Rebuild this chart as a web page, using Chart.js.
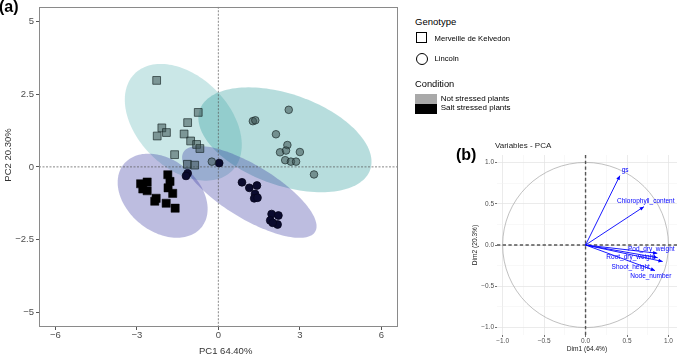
<!DOCTYPE html>
<html><head><meta charset="utf-8">
<script src="https://cdn.jsdelivr.net/npm/chart.js@4"></script>
<style>
html,body{margin:0;padding:0;background:#fff;width:677px;height:357px;overflow:hidden;font-family:"Liberation Sans",Arial,sans-serif;color:#000;}
.abs{position:absolute;white-space:nowrap;line-height:1;}
#ca{position:absolute;left:0;top:0;}
#cb{position:absolute;left:467px;top:140px;}
</style></head><body>
<canvas id="ca" width="404" height="357"></canvas>
<canvas id="cb" width="210" height="217"></canvas>

<div class="abs" style="left:-1px;top:-1px;font-size:16px;font-weight:bold">(a)</div>
<div class="abs" style="left:199px;top:346px;font-size:9.5px;color:#333">PC1 64.40%</div>
<div class="abs" style="left:7.5px;top:155px;font-size:9.5px;color:#333;transform:translate(-50%,-50%) rotate(-90deg);transform-origin:50% 50%;">PC2 20.30%</div>

<div class="abs" style="left:415px;top:17px;font-size:9.5px">Genotype</div>
<div class="abs" style="left:416px;top:32px;width:9px;height:9px;border:1px solid #000"></div>
<div class="abs" style="left:434.5px;top:35px;font-size:7.7px">Merveille de Kelvedon</div>
<div class="abs" style="left:416px;top:53px;width:10px;height:10px;border:1px solid #000;border-radius:50%"></div>
<div class="abs" style="left:434.5px;top:55px;font-size:7.7px">Lincoln</div>
<div class="abs" style="left:415px;top:79.5px;font-size:9.3px">Condition</div>
<div class="abs" style="left:415px;top:94px;width:22px;height:10px;background:#a9a9a9"></div>
<div class="abs" style="left:415px;top:104px;width:22px;height:9.5px;background:#000"></div>
<div class="abs" style="left:440.7px;top:95px;font-size:8px">Not stressed plants</div>
<div class="abs" style="left:440.7px;top:103.5px;font-size:8px">Salt stressed plants</div>

<div class="abs" style="left:456px;top:147px;font-size:16px;font-weight:bold">(b)</div>
<div class="abs" style="left:495px;top:142px;font-size:8px;color:#222">Variables - PCA</div>

<script>
// ---------- Panel (a) data ----------
const squaresNotStressed = [[-2.27,2.97],[-0.74,1.87],[-1.13,1.52],[-2.08,1.34],[-1.91,1.18],[-2.25,1.06],[-1.26,1.13],[-1.02,0.89],[-0.80,0.77],[-0.68,0.63],[-1.61,0.42],[-1.14,0.09],[-0.87,0.06]];
const squaresSaltStressed = [[-2.86,-0.58],[-2.62,-0.52],[-2.78,-0.76],[-2.62,-0.82],[-1.86,-0.27],[-1.78,-0.50],[-1.85,-0.72],[-1.68,-0.91],[-2.29,-1.08],[-2.34,-1.18],[-1.92,-1.25],[-1.59,-1.42]];
const circlesNotStressed = [[2.59,1.96],[1.27,1.57],[1.36,1.60],[2.12,1.12],[2.54,0.75],[2.27,0.50],[2.49,0.56],[3.00,0.51],[2.46,0.23],[2.67,0.18],[2.86,0.18],[3.52,-0.26],[-0.24,0.18]];
const circlesSaltStressed = [[0.03,0.13],[-1.13,-0.22],[-1.19,-0.31],[0.87,-0.53],[1.14,-0.72],[1.42,-0.64],[1.35,-0.93],[1.32,-1.08],[1.44,-1.06],[1.96,-1.62],[2.21,-1.67],[1.91,-1.84],[2.18,-1.98],[2.00,-1.92]];
const ellipseCenters = [[-1.29,1.53],[2.45,0.93],[-2.05,-0.99],[1.14,-0.86]];
const ellipseMajor   = [[1.79,-1.67],[3.136,-1.031],[1.426,-1.089],[2.42,-1.372]];
const ellipseMinor   = [[1.195,1.109],[0.563,1.477],[0.840,0.949],[0.513,0.780]];
const xTicksA = [-6,-3,0,3,6];
const yTicksA = [-5,-2.5,0,2.5,5];
const xRangeA = [-6.6,6.6];
const yRangeA = [-5.5,5.5];

// ---------- Panel (b) data ----------
const varNames = ['gs','Chlorophyll_content','Pod_dry_weight','Root_dry_weight','Shoot_height','Node_number'];
const varX = [0.414,0.704,0.865,0.870,0.930,0.837];
const varY = [0.840,0.464,-0.100,-0.154,-0.200,-0.310];
const labelX = [0.477,0.726,0.793,0.545,0.545,0.787];
const labelY = [0.909,0.531,-0.045,-0.149,-0.263,-0.376];
const ticksB = [-1,-0.75,-0.5,-0.25,0,0.25,0.5,0.75,1];
const xRangeB = [-1.068,1.103];
const yRangeB = [-1.09,1.09];
const circleRadiusB = [1];

const FONT = "'Liberation Sans', Arial, sans-serif";
Chart.defaults.font.family = FONT;
const fmtMinus = v => (v < 0 ? '\u2212' + Math.abs(v) : String(v));
const toPts = arr => arr.map(p => ({x:p[0], y:p[1]}));

const ellipseFills = ['rgba(80,175,175,0.30)','rgba(30,150,150,0.32)','rgba(50,50,160,0.32)','rgba(50,50,160,0.32)'];

const panelAPlugin = {
  id:'panelA',
  beforeDatasetsDraw(chart){
    const {ctx, chartArea:ca, scales:{x, y}} = chart;
    ctx.save();
    ctx.beginPath(); ctx.rect(ca.left, ca.top, ca.right-ca.left, ca.bottom-ca.top); ctx.clip();
    ellipseCenters.forEach((c,i)=>{
      const A = ellipseMajor[i], B = ellipseMinor[i];
      ctx.beginPath();
      for(let k=0;k<=144;k++){
        const t = k/144*2*Math.PI;
        const dx = c[0]+A[0]*Math.cos(t)+B[0]*Math.sin(t);
        const dy = c[1]+A[1]*Math.cos(t)+B[1]*Math.sin(t);
        const px = x.getPixelForValue(dx), py = y.getPixelForValue(dy);
        if(k===0) ctx.moveTo(px,py); else ctx.lineTo(px,py);
      }
      ctx.closePath();
      ctx.fillStyle = ellipseFills[i];
      ctx.fill();
    });
    ctx.strokeStyle = '#555'; ctx.lineWidth = 0.7; ctx.setLineDash([2,1.5]);
    const x0 = x.getPixelForValue(0), y0 = y.getPixelForValue(0);
    ctx.beginPath(); ctx.moveTo(x0, ca.top); ctx.lineTo(x0, ca.bottom); ctx.stroke();
    ctx.beginPath(); ctx.moveTo(ca.left, y0); ctx.lineTo(ca.right, y0); ctx.stroke();
    ctx.restore();
  },
  afterDraw(chart){
    const {ctx, chartArea:ca} = chart;
    ctx.save();
    ctx.strokeStyle = '#8a8a8a'; ctx.lineWidth = 1;
    ctx.strokeRect(Math.round(ca.left)+0.5, Math.round(ca.top)+0.5, Math.round(ca.right-ca.left)-1, Math.round(ca.bottom-ca.top)-1);
    ctx.restore();
  }
};

const grayFill = 'rgba(60,82,82,0.55)', grayBorder = 'rgba(25,40,40,0.85)';
new Chart(document.getElementById('ca'), {
  type:'scatter',
  data:{datasets:[
    {data:toPts(circlesNotStressed), pointStyle:'circle', pointRadius:3.8, backgroundColor:grayFill, borderColor:grayBorder, borderWidth:0.8},
    {data:toPts(squaresNotStressed), pointStyle:'rect', pointRadius:5.5, backgroundColor:grayFill, borderColor:grayBorder, borderWidth:0.8},
    {data:toPts(circlesSaltStressed), pointStyle:'circle', pointRadius:3.9, backgroundColor:'#0a0a2e', borderColor:'#05051a', borderWidth:0.8},
    {data:toPts(squaresSaltStressed), pointStyle:'rect', pointRadius:5.8, backgroundColor:'#000', borderColor:'#000', borderWidth:0.5}
  ]},
  options:{
    responsive:false, animation:false, devicePixelRatio:1,
    layout:{padding:{top:5,right:5,left:0,bottom:0}},
    plugins:{legend:{display:false}, tooltip:{enabled:false}},
    elements:{point:{hoverRadius:0}},
    scales:{
      x:{type:'linear', min:xRangeA[0], max:xRangeA[1],
        afterBuildTicks:s=>{s.ticks = xTicksA.map(v=>({value:v}));},
        afterFit:s=>{s.height = 30;},
        ticks:{callback:v=>fmtMinus(v), font:{size:9.5, lineHeight:1}, color:'#4d4d4d', padding:1, maxRotation:0, autoSkip:false},
        grid:{drawOnChartArea:false, tickLength:3, tickColor:'#555'},
        border:{display:false}},
      y:{type:'linear', min:yRangeA[0], max:yRangeA[1],
        afterBuildTicks:s=>{s.ticks = yTicksA.map(v=>({value:v}));},
        afterFit:s=>{s.width = 39;},
        ticks:{callback:v=>fmtMinus(v), font:{size:9.5, lineHeight:1}, color:'#4d4d4d', padding:2, autoSkip:false},
        grid:{drawOnChartArea:false, tickLength:3, tickColor:'#555'},
        border:{display:false}}
    }
  },
  plugins:[panelAPlugin]
});

// ---------- Panel (b) ----------
const panelBPlugin = {
  id:'panelB',
  beforeDatasetsDraw(chart){
    const {ctx, chartArea:ca, scales:{x, y}} = chart;
    ctx.save();
    ctx.beginPath(); ctx.rect(ca.left, ca.top, ca.right-ca.left, ca.bottom-ca.top); ctx.clip();
    const cx = x.getPixelForValue(0), cy = y.getPixelForValue(0);
    const rx = Math.abs(x.getPixelForValue(circleRadiusB[0]) - cx);
    const ry = Math.abs(y.getPixelForValue(circleRadiusB[0]) - cy);
    ctx.strokeStyle = '#a5a5a5'; ctx.lineWidth = 0.7;
    ctx.beginPath(); ctx.ellipse(cx, cy, rx, ry, 0, 0, 2*Math.PI); ctx.stroke();
    ctx.strokeStyle = '#555'; ctx.lineWidth = 1.4; ctx.setLineDash([3.3,2.4]);
    ctx.beginPath(); ctx.moveTo(cx, ca.top); ctx.lineTo(cx, ca.bottom); ctx.stroke();
    ctx.beginPath(); ctx.moveTo(ca.left, cy); ctx.lineTo(ca.right, cy); ctx.stroke();
    ctx.restore();
  },
  afterDatasetsDraw(chart){
    const {ctx, scales:{x, y}} = chart;
    ctx.save();
    const ox = x.getPixelForValue(0), oy = y.getPixelForValue(0);
    varX.forEach((vx,i)=>{
      const tx = x.getPixelForValue(vx), ty = y.getPixelForValue(varY[i]);
      const ang = Math.atan2(ty-oy, tx-ox);
      const L = 4.2, W = 1.9;
      ctx.fillStyle = '#0000ff';
      ctx.beginPath();
      ctx.moveTo(tx, ty);
      ctx.lineTo(tx - L*Math.cos(ang) + W*Math.sin(ang), ty - L*Math.sin(ang) - W*Math.cos(ang));
      ctx.lineTo(tx - L*Math.cos(ang) - W*Math.sin(ang), ty - L*Math.sin(ang) + W*Math.cos(ang));
      ctx.closePath(); ctx.fill();
    });
    ctx.font = "6.5px " + FONT;
    ctx.fillStyle = '#0000ff'; ctx.textAlign = 'center'; ctx.textBaseline = 'middle';
    varNames.forEach((n,i)=>{
      ctx.fillText(n, x.getPixelForValue(labelX[i]), y.getPixelForValue(labelY[i]));
    });
    ctx.restore();
  }
};

const isMajor = v => Math.abs(v*2 - Math.round(v*2)) < 1e-6;
const fmtB = v => isMajor(v) ? (v < 0 ? '\u2212' + Math.abs(v).toFixed(1) : v.toFixed(1)) : '';
const gridB = {
  drawOnChartArea:true, tickLength:2,
  color:c=> (c.tick && isMajor(c.tick.value)) ? '#e2e2e2' : '#f0f0f0',
  lineWidth:c=> (c.tick && isMajor(c.tick.value)) ? 0.7 : 0.5,
  tickColor:c=> (c.tick && isMajor(c.tick.value)) ? '#333' : 'rgba(0,0,0,0)'
};
new Chart(document.getElementById('cb'), {
  type:'scatter',
  data:{datasets: varNames.map((n,i)=>({
    label:n, data:[{x:0,y:0},{x:varX[i],y:varY[i]}], showLine:true,
    borderColor:'#0000ff', borderWidth:0.9, pointRadius:0, fill:false
  }))},
  options:{
    responsive:false, animation:false, devicePixelRatio:1,
    layout:{padding:{top:15,right:0,left:0,bottom:0}},
    plugins:{legend:{display:false}, tooltip:{enabled:false}},
    scales:{
      x:{type:'linear', min:xRangeB[0], max:xRangeB[1],
        afterBuildTicks:s=>{s.ticks = ticksB.map(v=>({value:v}));},
        afterFit:s=>{s.height = 22;},
        ticks:{callback:v=>fmtB(v), font:{size:6.5, lineHeight:1.2}, color:'#4d4d4d', padding:0, maxRotation:0, autoSkip:false},
        grid:gridB, border:{display:false},
        title:{display:true, text:'Dim1 (64.4%)', font:{size:6.6}, color:'#222', padding:{top:0,bottom:3.7}}},
      y:{type:'linear', min:yRangeB[0], max:yRangeB[1],
        afterBuildTicks:s=>{s.ticks = ticksB.map(v=>({value:v}));},
        afterFit:s=>{s.width = 30;},
        ticks:{callback:v=>fmtB(v), font:{size:6.5, lineHeight:1.2}, color:'#4d4d4d', padding:1, autoSkip:false},
        grid:gridB, border:{display:false},
        title:{display:true, text:'Dim2 (20.3%)', font:{size:6.6}, color:'#222', padding:{top:4,bottom:0}}}
    }
  },
  plugins:[panelBPlugin]
});
</script>
</body></html>
